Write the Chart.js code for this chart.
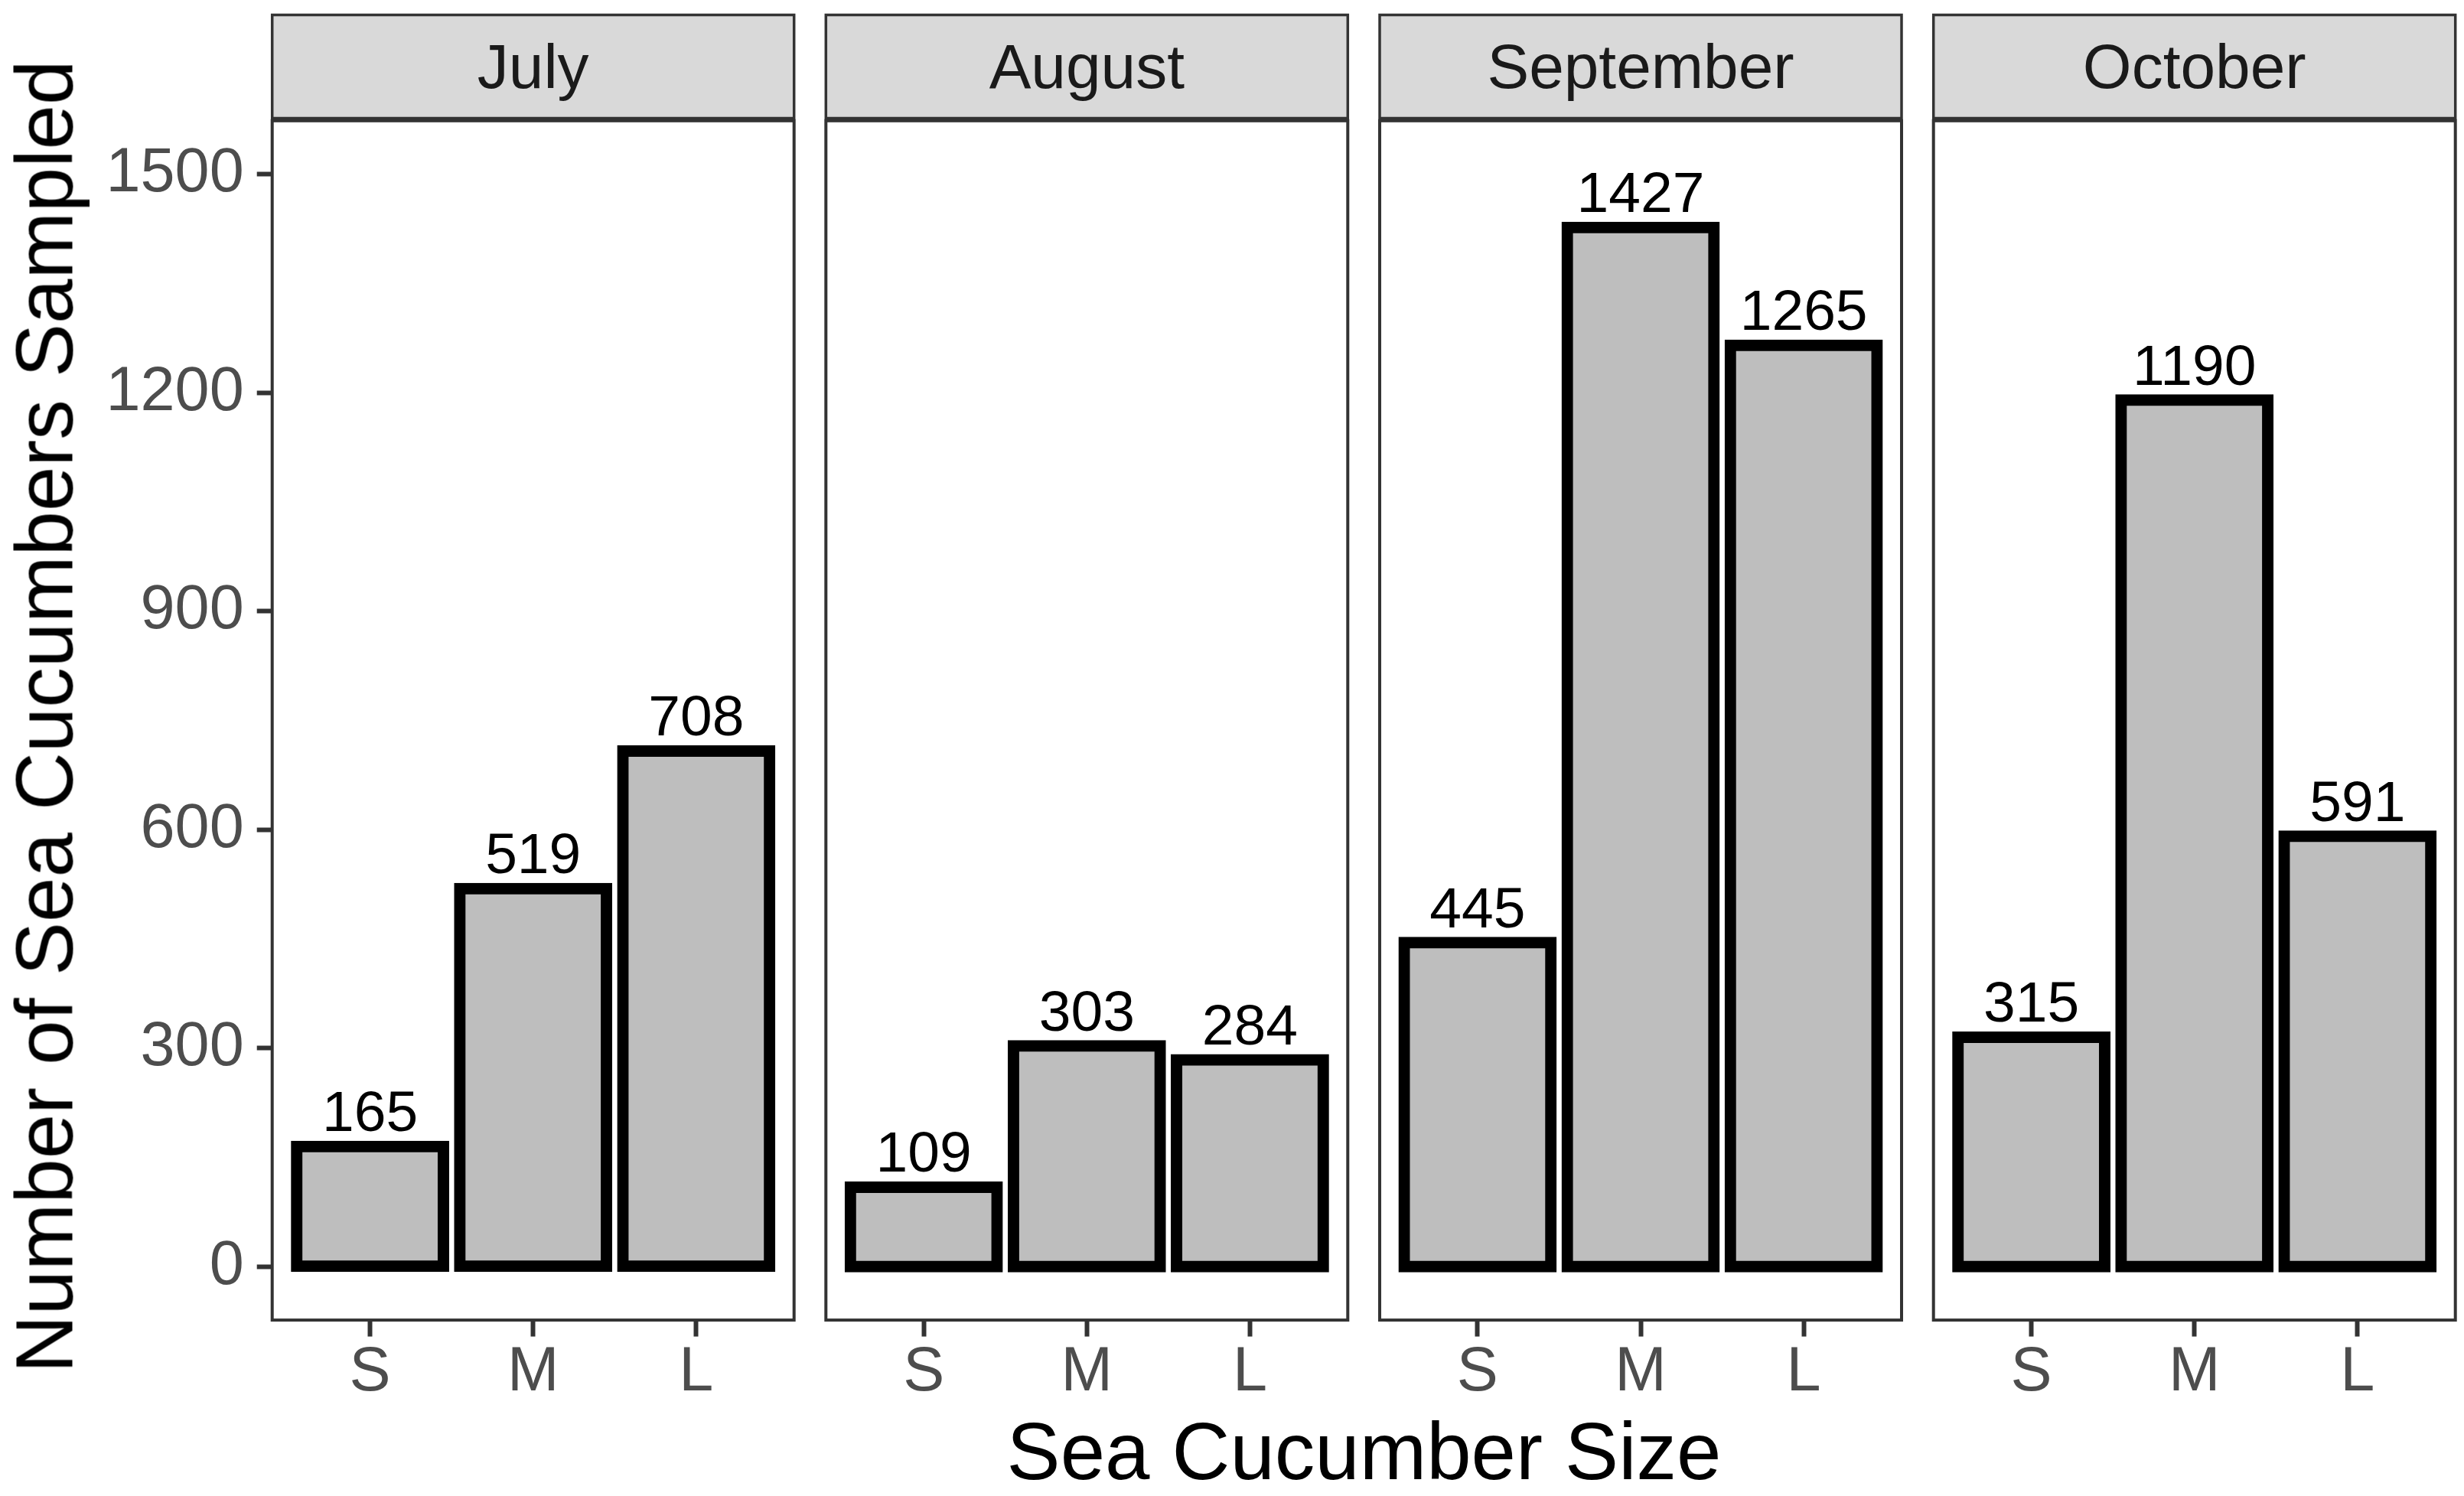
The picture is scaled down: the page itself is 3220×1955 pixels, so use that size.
<!DOCTYPE html>
<html>
<head>
<meta charset="utf-8">
<title>Sea Cucumbers Sampled</title>
<script src="https://cdn.jsdelivr.net/npm/chart.js@4.4.1/dist/chart.umd.min.js"></script>
<style>
    html, body { margin: 0; padding: 0; background: #ffffff; }
    #wrap { position: relative; width: 3220px; height: 1955px; overflow: hidden; }
    canvas { position: absolute; top: 0; }
    .axis-title {
        position: absolute;
        width: 1800px;
        height: 105px;
        line-height: 105px;
        font-family: "Liberation Sans", Arial, sans-serif;
        font-size: 105px;
        color: #000000;
        text-align: center;
        white-space: nowrap;
    }
    #xTitle { left: 882.5px; top: 1844px; }
    #yTitle { left: -841.7px; top: 883.5px; transform: rotate(-90deg); }
</style>
</head>
<body>
<div id="wrap">
    <canvas id="panel0" width="1050" height="1955" style="left:0px"></canvas>
    <canvas id="panel1" width="706" height="1955"></canvas>
    <canvas id="panel2" width="706" height="1955"></canvas>
    <canvas id="panel3" width="706" height="1955"></canvas>
    <div id="xTitle" class="axis-title">Sea Cucumber Size</div>
    <div id="yTitle" class="axis-title">Number of Sea Cucumbers Sampled</div>
</div>
<script>
// data
const months = ['July', 'August', 'September', 'October'];
const sizes = ['S', 'M', 'L'];
const julyCounts = [165, 519, 708];
const augustCounts = [109, 303, 284];
const septemberCounts = [445, 1427, 1265];
const octoberCounts = [315, 1190, 591];
const yTicks = [0, 300, 600, 900, 1200, 1500];

const monthCounts = [julyCounts, augustCounts, septemberCounts, octoberCounts];

// layout (pixels)
const PANEL_LEFTS = [355.7, 1079.3, 1803, 2526.7];
const PANEL_WIDTH = 682;
const CANVAS_H = 1955;
const AREA_BOTTOM = 1726.6;
const STRIP_TOP = 19.5;
const STRIP_BOTTOM = 154.5;
const EDGE = 12;

Chart.defaults.font.family = '"Liberation Sans", Arial, sans-serif';
Chart.defaults.animation = false;

// grey strip behind the month name + panel frame
const facetPlugin = {
    id: 'facet',
    beforeDraw(chart) {
        const ctx = chart.ctx;
        const a = chart.chartArea;
        ctx.save();
        ctx.fillStyle = '#D9D9D9';
        ctx.fillRect(a.left, STRIP_TOP, a.right - a.left, STRIP_BOTTOM - STRIP_TOP);
        ctx.strokeStyle = '#333333';
        ctx.lineWidth = 3.5;
        ctx.strokeRect(a.left, STRIP_TOP, a.right - a.left, STRIP_BOTTOM - STRIP_TOP);
        ctx.restore();
    },
    afterDraw(chart) {
        const ctx = chart.ctx;
        const a = chart.chartArea;
        ctx.save();
        ctx.strokeStyle = '#333333';
        ctx.lineWidth = 4;
        ctx.strokeRect(a.left, a.top + 1.5, a.right - a.left, a.bottom - a.top - 3);
        ctx.restore();
    }
};

// count printed above each bar
const valueLabels = {
    id: 'valueLabels',
    afterDatasetsDraw(chart) {
        const ctx = chart.ctx;
        const meta = chart.getDatasetMeta(0);
        const points = chart.data.datasets[0].data;
        ctx.save();
        ctx.font = '75px "Liberation Sans", Arial, sans-serif';
        ctx.fillStyle = '#000000';
        ctx.textAlign = 'center';
        ctx.textBaseline = 'alphabetic';
        meta.data.forEach((bar, i) => {
            ctx.fillText(String(points[i].y), bar.x, bar.y - 20);
        });
        ctx.restore();
    }
};

function buildPanel(index) {
    const isFirst = index === 0;
    const canvas = document.getElementById('panel' + index);
    let padLeft = 0;
    let padRight = EDGE;
    if (!isFirst) {
        const canvasLeft = Math.floor(PANEL_LEFTS[index]) - EDGE;
        canvas.style.left = canvasLeft + 'px';
        padLeft = PANEL_LEFTS[index] - canvasLeft;
        padRight = canvas.width - padLeft - PANEL_WIDTH;
    } else {
        padRight = canvas.width - PANEL_LEFTS[0] - PANEL_WIDTH;
    }

    return new Chart(canvas, {
        type: 'bar',
        data: {
            datasets: [{
                data: monthCounts[index].map((v, i) => ({ x: i + 1, y: v })),
                backgroundColor: '#BEBEBE',
                borderColor: '#000000',
                borderWidth: 15,
                borderSkipped: false,
                inflateAmount: 7.5,
                categoryPercentage: 1,
                barPercentage: 0.9
            }]
        },
        options: {
            responsive: false,
            devicePixelRatio: 1,
            layout: { padding: { left: padLeft, right: padRight, top: 0, bottom: 0 } },
            plugins: {
                legend: { display: false },
                tooltip: { enabled: false },
                title: {
                    display: true,
                    text: months[index],
                    fullSize: false,
                    color: '#1A1A1A',
                    font: { size: 82, weight: 'normal', lineHeight: 1 },
                    padding: { top: 51, bottom: 23.3 }
                }
            },
            scales: {
                x: {
                    type: 'linear',
                    min: 0.4,
                    max: 3.6,
                    offset: false,
                    afterBuildTicks: s => { s.ticks = sizes.map((_, i) => ({ value: i + 1 })); },
                    afterFit: s => { s.height = CANVAS_H - AREA_BOTTOM; },
                    border: { display: false },
                    grid: {
                        offset: false,
                        drawOnChartArea: false,
                        tickLength: 20,
                        tickWidth: 6,
                        tickColor: '#333333'
                    },
                    ticks: {
                        autoSkip: false,
                        maxRotation: 0,
                        padding: 8,
                        color: '#4D4D4D',
                        font: { size: 81, lineHeight: 1 },
                        callback: value => sizes[value - 1]
                    }
                },
                y: {
                    display: isFirst,
                    min: -75,
                    max: 1575,
                    afterBuildTicks: s => { s.ticks = yTicks.map(v => ({ value: v })); },
                    afterFit: s => { if (isFirst) s.width = PANEL_LEFTS[0]; },
                    border: { display: false },
                    grid: {
                        drawOnChartArea: false,
                        tickLength: 20,
                        tickWidth: 6,
                        tickColor: '#333333'
                    },
                    ticks: {
                        padding: 17,
                        color: '#4D4D4D',
                        font: { size: 81, lineHeight: 1 },
                        callback: value => String(value)
                    }
                }
            }
        },
        plugins: [facetPlugin, valueLabels]
    });
}

months.forEach((m, i) => buildPanel(i));
</script>
</body>
</html>
